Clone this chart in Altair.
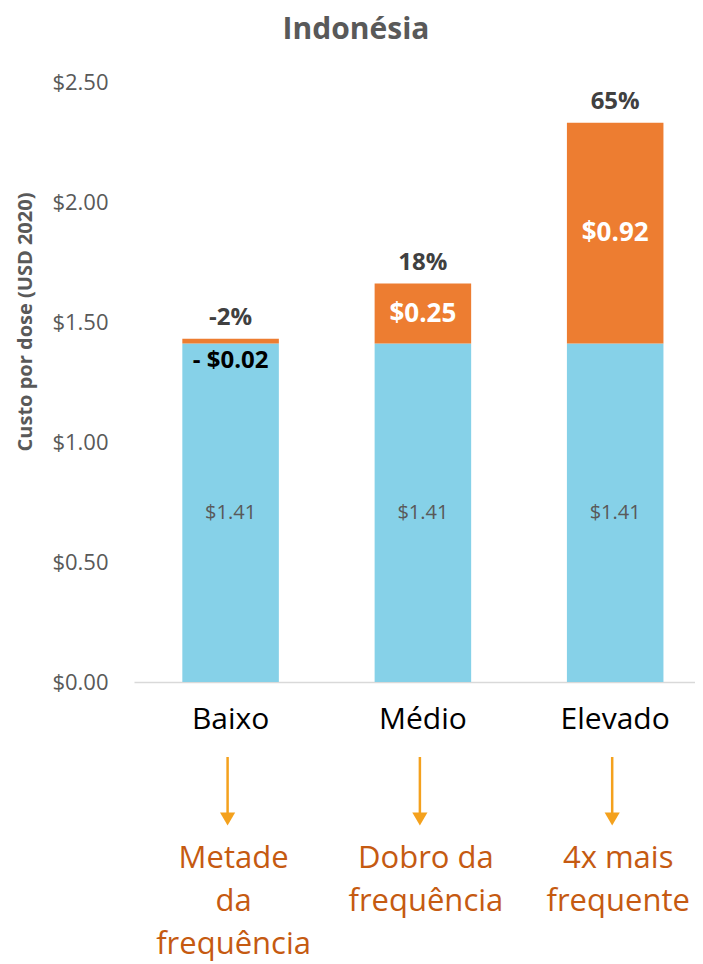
import altair as alt
import pandas as pd

# ---- data ----
categories = ["Baixo", "Médio", "Elevado"]
base_cost = [1.41, 1.41, 1.41]
delta_cost = [0.02, 0.25, 0.92]
delta_labels = ["- $0.02", "$0.25", "$0.92"]
pct_labels = ["-2%", "18%", "65%"]
base_labels = ["$1.41", "$1.41", "$1.41"]
descriptions = [["Metade", "da", "frequência"], ["Dobro da", "frequência"], ["4x mais", "frequente"]]
title_text = ["Indonésia"]
y_title_text = ["Custo por dose (USD 2020)"]
y_ticks = [0.0, 0.5, 1.0, 1.5, 2.0, 2.5]

FONT = "Open Sans"
BLUE = "#86D1E8"
ORANGE = "#ED7D31"
ARROW = "#F4A11D"
DESC = "#C55A11"
GRAY = "#595959"

df = pd.DataFrame({
    "cat": categories,
    "base": base_cost,
    "delta": delta_cost,
    "dlabel": delta_labels,
    "pct": pct_labels,
    "blabel": base_labels,
    "desc": ["\n".join(d) for d in descriptions],
    "kind": ["neg", "pos", "pos"],
})

PLOT_W = 561
PLOT_H = 600

x = alt.X("cat:N", sort=categories,
          scale=alt.Scale(paddingInner=0.498, paddingOuter=0.2077, align=0.605),
          axis=alt.Axis(title=None, labelAngle=0, labelFont=FONT, labelFontSize=30,
                        labelColor="#000000", labelBaseline="alphabetic", labelPadding=46,
                        ticks=False, domainColor="#D9D9D9", domainWidth=1.5))
yscale = alt.Scale(domain=[0, 2.5], nice=False)

base = alt.Chart(df).transform_calculate(
    top="datum.base + datum.delta",
    mid="datum.base + datum.delta / 2",
    half="datum.base / 2",
)

bars_blue = base.mark_bar(color=BLUE).encode(
    x=x,
    y=alt.Y("base:Q", scale=yscale,
            axis=alt.Axis(title=None, values=y_ticks, format="$.2f", ticks=False, domain=False,
                          grid=False, labelFont=FONT, labelFontSize=22, labelColor=GRAY,
                          labelPadding=26)),
)
bars_orange = base.mark_bar(color=ORANGE).encode(
    x=alt.X("cat:N", sort=categories),
    y=alt.Y("base:Q"),
    y2="top:Q",
)

base_txt = base.mark_text(font=FONT, fontSize=20, color=GRAY, baseline="middle").encode(
    x=alt.X("cat:N", sort=categories), y=alt.Y("half:Q"), text="blabel:N")

pos_txt = base.transform_filter("datum.kind == 'pos'").mark_text(
    font=FONT, fontSize=26, fontWeight="bold", color="#FFFFFF", baseline="middle").encode(
    x=alt.X("cat:N", sort=categories), y=alt.Y("mid:Q"), text="dlabel:N")

neg_txt = base.transform_filter("datum.kind == 'neg'").mark_text(
    font=FONT, fontSize=24, fontWeight="bold", color="#000000", baseline="middle", dy=17).encode(
    x=alt.X("cat:N", sort=categories), y=alt.Y("base:Q"), text="dlabel:N")

pct_txt = base.mark_text(font=FONT, fontSize=24, fontWeight="bold", color="#404040",
                         baseline="middle", dy=-21).encode(
    x=alt.X("cat:N", sort=categories), y=alt.Y("top:Q"), text="pct:N")

arrows = base.mark_rule(color=ARROW, strokeWidth=2.5, xOffset=-3).encode(
    x=alt.X("cat:N", sort=categories), y=alt.value(675), y2=alt.value(733))
heads = base.mark_point(shape="triangle-down", filled=True, color=ARROW, size=230,
                        opacity=1, xOffset=-3).encode(
    x=alt.X("cat:N", sort=categories), y=alt.value(737))

desc_txt = base.mark_text(font=FONT, fontSize=31, color=DESC, baseline="alphabetic",
                          lineBreak="\n", lineHeight=43, dx=3).encode(
    x=alt.X("cat:N", sort=categories), y=alt.value(786), text="desc:N")

title = alt.Chart(pd.DataFrame({"t": title_text})).mark_text(
    font=FONT, fontSize=30, fontWeight="bold", color=GRAY, baseline="middle").encode(
    x=alt.value(222), y=alt.value(-52), text="t:N")

ytitle = alt.Chart(pd.DataFrame({"t": y_title_text})).mark_text(
    font=FONT, fontSize=20, fontWeight="bold", color=GRAY, baseline="middle", angle=270).encode(
    x=alt.value(-108), y=alt.value(240), text="t:N")

chart = alt.layer(
    bars_blue, bars_orange, base_txt, pos_txt, neg_txt, pct_txt,
    arrows, heads, desc_txt, title, ytitle,
).properties(
    width=PLOT_W, height=PLOT_H,
    background="#FFFFFF",
    autosize=alt.AutoSizeParams(type="none"),
    padding={"left": 126, "top": 74, "right": 0, "bottom": 290},
).configure_view(stroke=None).configure_axisY(domain=False, grid=False, ticks=False)

chart.save("out.html", embed_options={"renderer": "svg", "actions": False})
